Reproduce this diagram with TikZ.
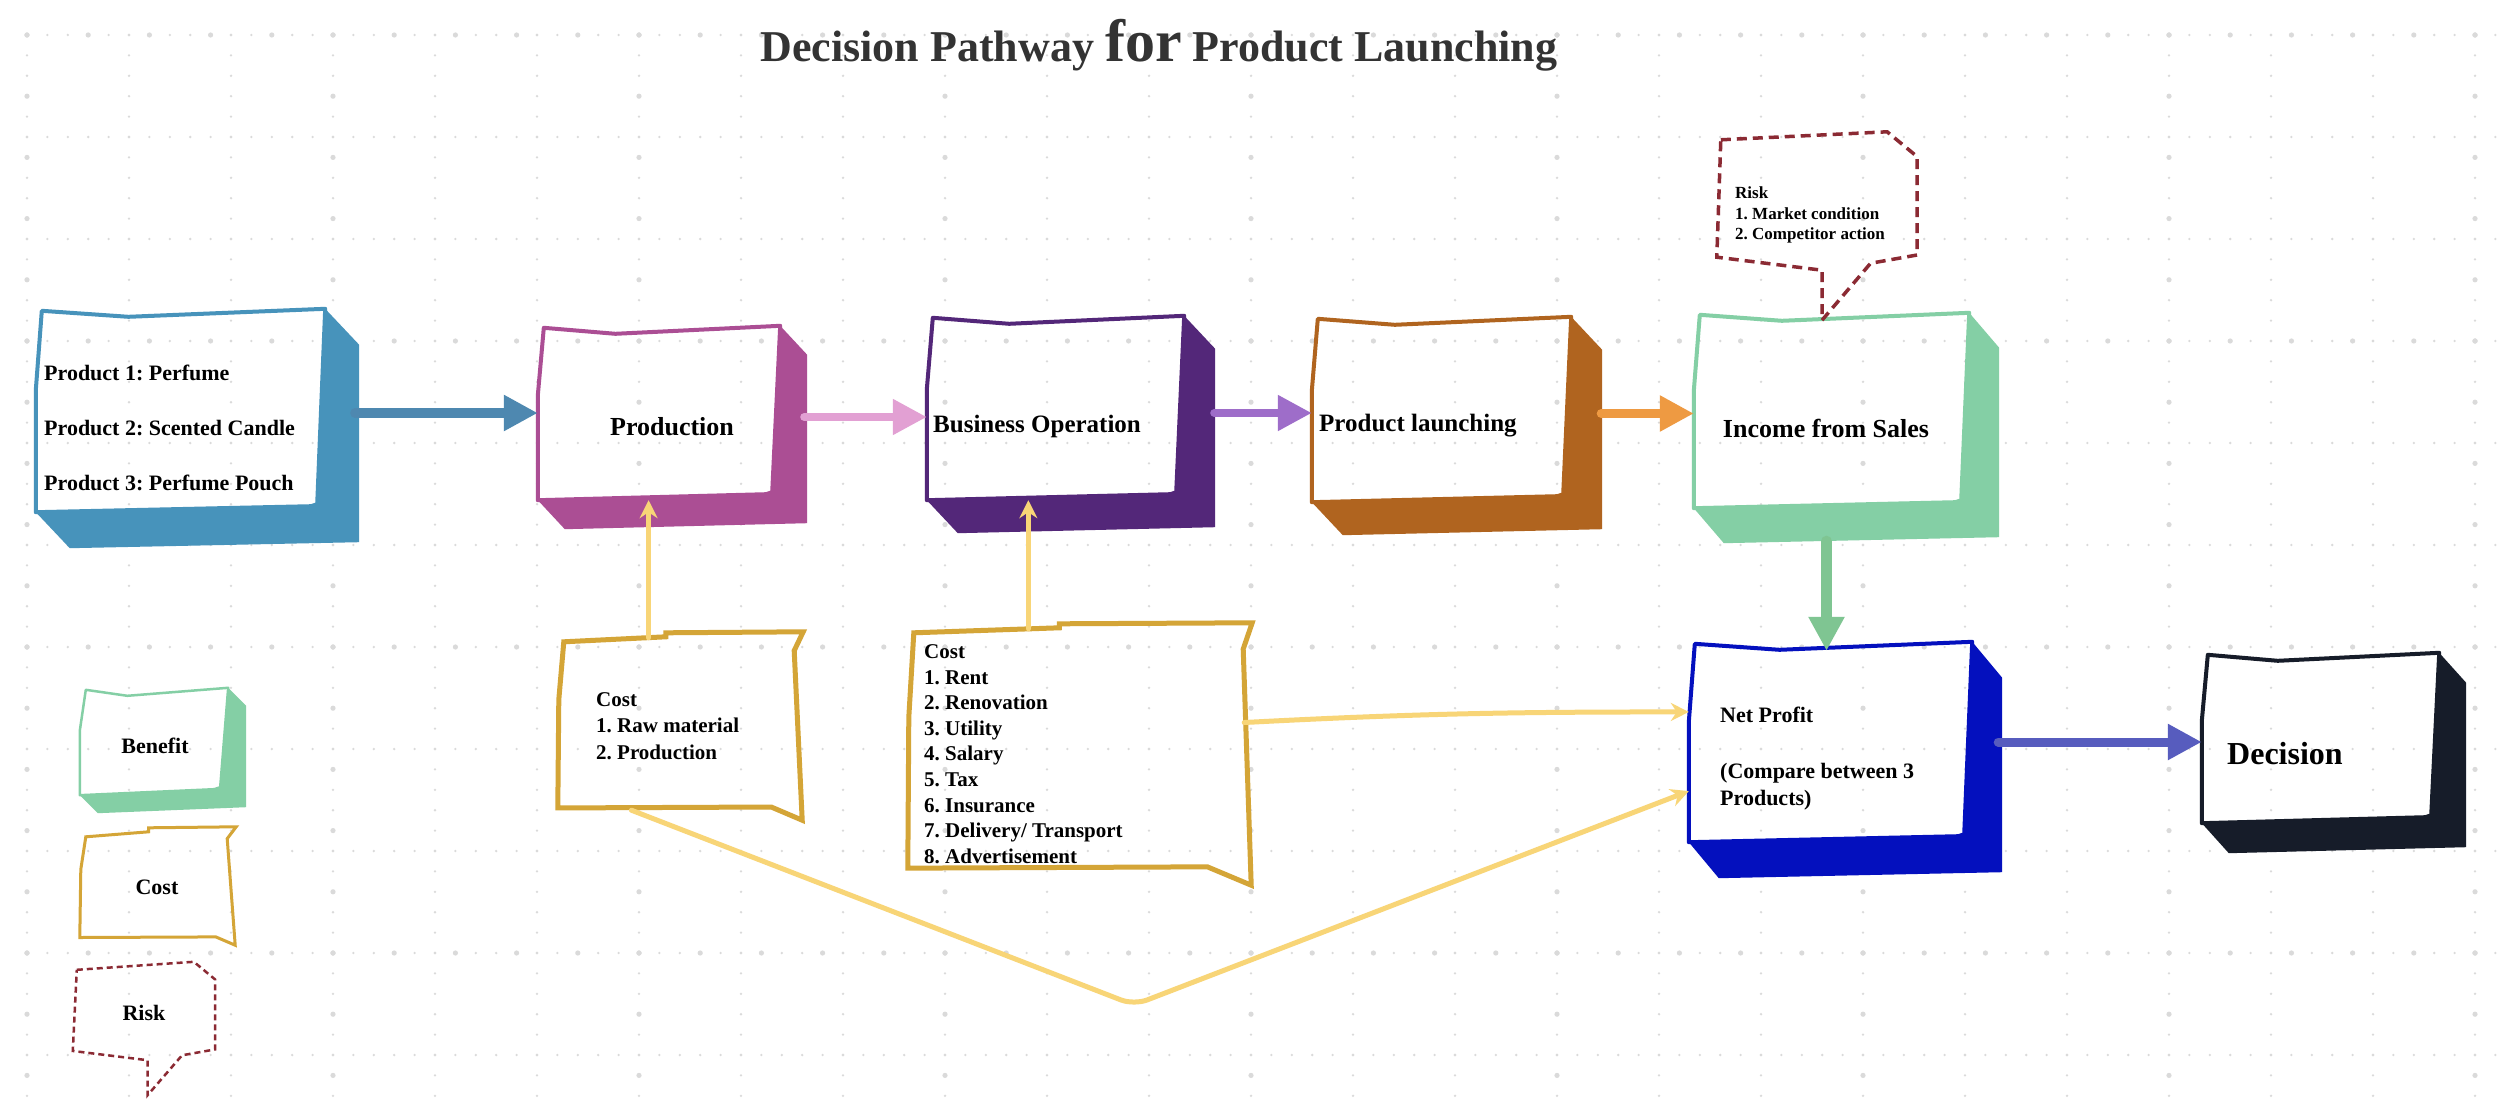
\documentclass[tikz,border=0pt]{standalone}
\usepackage{fontspec}
\setmainfont{Liberation Serif}
\usetikzlibrary{arrows.meta,calc,fit,backgrounds}
\frenchspacing

\definecolor{prodblue}{HTML}{4793BB}
\definecolor{prodarrow}{HTML}{4E88B0}
\definecolor{makemag}{HTML}{AB4E94}
\definecolor{makearrow}{HTML}{E2A0D3}
\definecolor{opspurple}{HTML}{532779}
\definecolor{opsarrow}{HTML}{9E6DC9}
\definecolor{launchbrown}{HTML}{B0641F}
\definecolor{launcharrow}{HTML}{EE9A42}
\definecolor{salesgreen}{HTML}{84CFA5}
\definecolor{salesarrow}{HTML}{7FC592}
\definecolor{profitblue}{HTML}{0410BE}
\definecolor{profitarrow}{HTML}{575CBE}
\definecolor{decidedark}{HTML}{161C29}
\definecolor{costgold}{HTML}{D4A537}
\definecolor{costline}{HTML}{F8D577}
\definecolor{riskred}{HTML}{8B2A33}
\definecolor{titlegray}{HTML}{333333}
\definecolor{dotgray}{HTML}{DADADA}

\newcommand{\boxfont}[2]{\fontsize{#1}{#2}\selectfont\bfseries}

% 3d box: line width, node, colour, depth x, depth y
\newcommand{\cubeshade}[5][4pt]{%
  \begin{pgfonlayer}{background}
  \fill[#3] (#2.north east) -- ++(#4,#5) -- ($(#2.south east)+(#4,#5-6)$)
    -- ($(#2.south west)+(#4,#5)$) -- (#2.south west)
    -- ($(#2.south east)+(-14,-6)$) -- ($(#2.south east)+(-8,-8)$) -- cycle;
  \draw[#3, line width=#1, line join=round]
    ($(#2.north west)+(6,2)$) -- ($(#2.north west)!0.32!(#2.north east)+(0,8)$)
    -- (#2.north east) -- ($(#2.south east)+(-8,-8)$) -- ($(#2.south east)+(-14,-6)$)
    -- (#2.south west) -- ($(#2.south west)!0.6!(#2.north west)$) -- cycle;
  \end{pgfonlayer}}

\newcommand{\costshape}[2][5pt]{%
  \begin{pgfonlayer}{background}
  \draw[costgold, line width=#1]
    ($(#2.north west)+(6,10)$) -- ($(#2.north west)!0.44!(#2.north east)+(0,5)$)
    -- ($(#2.north west)!0.44!(#2.north east)+(0,1)$) -- (#2.north east)
    -- ($(#2.north east)!0.1!(#2.south east)+(-9,0)$) -- ($(#2.south east)+(-1,0)$)
    -- ($(#2.south east)!0.14!(#2.south west)!0.07!(#2.north east)$)
    -- ($(#2.south west)!0.065!(#2.north west)$)
    -- ($(#2.south west)!0.64!(#2.north west)+(1,0)$) -- cycle;
  \end{pgfonlayer}}

\newcommand{\riskshape}[3][riskdash]{%
  \begin{pgfonlayer}{background}
  \draw[#1]
    ($(#2.north west)+(4,8)$) -- ($(#2.north east)!0.15!(#2.north west)$)
    -- ($(#2.north east)!0.18!(#2.south east)$) -- ($(#2.south east)!0.11!(#2.north east)$)
    -- ($(#2.south east)!0.245!(#2.south west)!0.05!(#2.north east)$)
    -- ($(#2.south west)!0.525!(#2.south east)+(0,#3)$)
    -- ($(#2.south west)!0.525!(#2.south east)$)
    -- ($(#2.south west)!0.094!(#2.north west)$) -- cycle;
  \end{pgfonlayer}}

\tikzset{
  facebox/.style={inner sep=0pt},
  txt/.style={inner sep=0pt, text=black, font=\bfseries},
  flow/.style={line width=#1, line cap=round, -{Triangle[length=34pt,width=34pt]}},
  costflow/.style={costline, line width=5pt, line cap=round, -{Stealth[length=18pt,width=18pt,inset=6pt]}},
  riskdash/.style={riskred, line width=3.5pt, dash pattern=on 10pt off 6pt},
  riskkey/.style={riskred, line width=2.5pt, dash pattern=on 6pt off 4pt},
}

\begin{document}
\begin{tikzpicture}[x=1pt,y=-1pt]
\useasboundingbox (0,0) rectangle (2511,1105);
\begin{pgfonlayer}{background}
\fill[white] (0,0) rectangle (2511,1105);
\foreach \row in {0,...,10}
  \foreach \col in {0,...,123}
    \fill[dotgray] ({27+\col*20.4},{35+\row*102}) circle (1.3pt);
\foreach \col in {0,...,24}
  \foreach \row in {0,...,54}
    \fill[dotgray] ({27+\col*102},{35+\row*20.4}) circle (1.3pt);
\foreach \row in {0,3,6,9}
  \foreach \col in {0,...,41}
    \fill[dotgray] ({27+\col*61.2},{35+\row*102}) circle (2.6pt);
\foreach \col in {0,3,...,24}
  \foreach \row in {0,...,17}
    \fill[dotgray] ({27+\col*102},{35+\row*61.2}) circle (2.6pt);
\end{pgfonlayer}

\node[txt, text=titlegray, font=\boxfont{44}{50}] (title) at (1159,45)
  {Decision Pathway {\fontsize{60}{60}\selectfont for} Product Launching};

\node[facebox, fit={(36,309) (325,512)}] (products) {};
\node[facebox, fit={(538,326) (780,500)}] (making) {};
\node[facebox, fit={(927,316) (1184,500)}] (operation) {};
\node[facebox, fit={(1312,317) (1571,502)}] (launch) {};
\node[facebox, fit={(1694,313) (1969,508)}] (sales) {};
\node[facebox, fit={(1689,642) (1972,842)}] (profit) {};
\node[facebox, fit={(2202,653) (2439,823)}] (decision) {};
\node[facebox, fit={(558,632) (803,820)}] (rawcost) {};
\node[facebox, fit={(908,623) (1252,885)}] (runcost) {};
\node[facebox, fit={(1717,132) (1917,270)}] (risk) {};
\node[facebox, fit={(80,688) (228,795)}] (benefitkey) {};
\node[facebox, fit={(80,827) (236,945)}] (costkey) {};
\node[facebox, fit={(73,962) (215,1060)}] (riskkey) {};

\cubeshade{products}{prodblue}{34}{36}
\cubeshade{making}{makemag}{27}{29}
\cubeshade{operation}{opspurple}{31}{33}
\cubeshade{launch}{launchbrown}{31}{33}
\cubeshade{sales}{salesgreen}{30}{35}
\cubeshade{profit}{profitblue}{30}{36}
\cubeshade{decision}{decidedark}{27}{30}
\cubeshade[2.5pt]{benefitkey}{salesgreen}{18}{18}
\costshape{rawcost}
\costshape{runcost}
\costshape[3pt]{costkey}
\riskshape{risk}{50}
\riskshape[riskkey]{riskkey}{35}

\node[txt, anchor=west, align=left, font=\boxfont{22}{55}] (productstxt) at (44,428)
  {Product 1: Perfume\\Product 2: Scented Candle\\Product 3: Perfume Pouch};
\node[txt, font=\boxfont{26}{30}] (makingtxt) at (672,427) {Production};
\node[txt, anchor=west, font=\boxfont{25}{30}] (operationtxt) at (933,426) {Business Operation};
\node[txt, anchor=west, font=\boxfont{25}{30}] (launchtxt) at (1319,426) {Product launching};
\node[txt, font=\boxfont{26}{30}] (salestxt) at (1826,428) {Income from Sales};
\node[txt, anchor=west, align=left, font=\boxfont{22}{27.5}] (profittxt) at (1720,759)
  {Net Profit\\[28pt](Compare between 3\\Products)};
\node[txt, anchor=west, font=\boxfont{32}{36}] (decisiontxt) at (2227,754) {Decision};
\node[txt, anchor=west, align=left, font=\boxfont{21}{26.5}] (rawcosttxt) at (596,726)
  {Cost\\1. Raw material\\2. Production};
\node[txt, anchor=west, align=left, font=\boxfont{21}{25.6}] (runcosttxt) at (924,754)
  {Cost\\1. Rent\\2. Renovation\\3. Utility\\4. Salary\\5. Tax\\6. Insurance\\7. Delivery/ Transport\\8. Advertisement};
\node[txt, anchor=west, align=left, font=\boxfont{17}{20.5}] (risktxt) at (1735,215)
  {Risk\\1. Market condition\\2. Competitor action};
\node[txt, font=\boxfont{22}{26}] (benefitkeytxt) at (155,746) {Benefit};
\node[txt, font=\boxfont{22}{26}] (costkeytxt) at (157,887) {Cost};
\node[txt, font=\boxfont{22}{26}] (riskkeytxt) at (144,1013) {Risk};

% main flow
\draw[flow=10pt, prodarrow, shorten <=30pt] (products.east |- making.west) -- (making.west);
\draw[flow=8pt, makearrow, shorten <=24pt] ([yshift=-4pt]making.east) -- ([yshift=-4pt]making.east -| operation.west);
\draw[flow=8pt, opsarrow, shorten <=30pt] ([yshift=-5pt]operation.east) -- ([yshift=-5pt]operation.east -| launch.west);
\draw[flow=9pt, launcharrow, shorten <=30pt] ([yshift=-4pt]launch.east) -- ([yshift=-4pt]launch.east -| sales.west);
\draw[flow=11pt, salesarrow, shorten <=33pt, shorten >=-9pt] ([xshift=-5pt]sales.south) -- ([xshift=-5pt]sales.south |- profit.north);
\draw[flow=9pt, profitarrow, shorten <=26pt] (profit.east) -- (profit.east -| decision.west);

% cost links
\coordinate (rawtop) at ($(rawcost.north west)!0.37!(rawcost.north east)+(0,6)$);
\coordinate (runtop) at ($(runcost.north west)!0.35!(runcost.north east)+(0,6)$);
\coordinate (runside) at ($(runcost.north east)!0.38!(runcost.south east)+(-8,0)$);
\coordinate (rawbase) at ($(rawcost.south west)!0.3!(rawcost.south east)+(0,-10)$);
\coordinate (dip) at (1134,1005);
\draw[costflow] (rawtop) -- (rawtop |- making.south);
\draw[costflow] (runtop) -- (runtop |- operation.south);
\draw[costflow] (runside) to[out=3, in=180] ($(profit.north west)!0.35!(profit.south west)$);
\draw[costflow, rounded corners=14pt] (rawbase) -- (dip) -- ($(profit.north west)!0.745!(profit.south west)$);
\end{tikzpicture}
\end{document}
